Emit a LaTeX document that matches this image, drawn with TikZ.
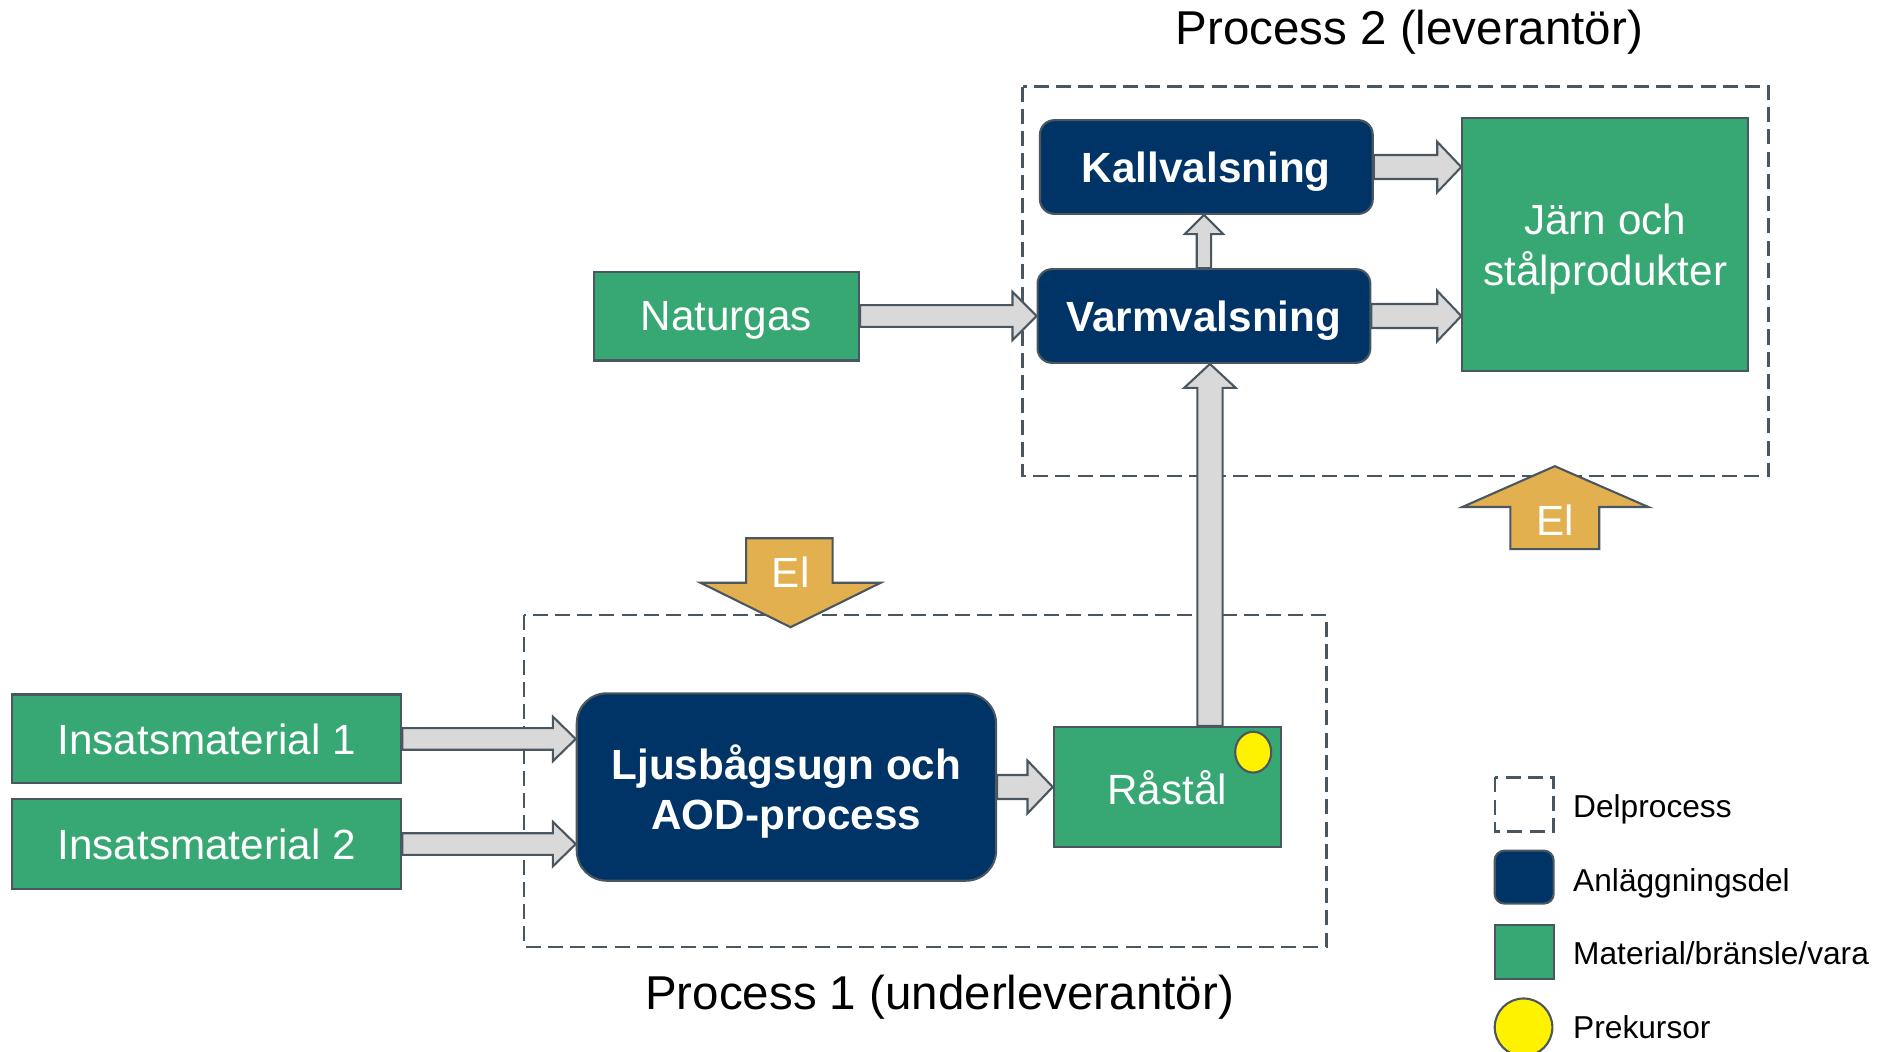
\documentclass[tikz,border=0pt]{standalone}
\usepackage{fontspec}
\setmainfont{Liberation Sans}
\usepackage{tikz}
\usetikzlibrary{calc}

\definecolor{navy}{RGB}{0,51,102}
\definecolor{gron}{RGB}{55,168,115}
\definecolor{guld}{RGB}{227,176,80}
\definecolor{kant}{RGB}{74,87,96}
\definecolor{pilgra}{RGB}{217,217,217}

\newcommand{\blockpil}[5]{%
  \coordinate (pA) at (#1);
  \coordinate (pB) at (#2);
  \coordinate (pC) at ($(pB)!#5!(pA)$);
  \draw[pil] ($(pA)!#3!90:(pB)$) -- ($(pC)!#3!90:(pB)$) -- ($(pC)!#4!90:(pB)$) -- (pB)
    -- ($(pC)!#4!-90:(pB)$) -- ($(pC)!#3!-90:(pB)$) -- ($(pA)!#3!-90:(pB)$) -- cycle;}

\begin{document}
\begin{tikzpicture}[x=0.02cm,y=-0.02cm,
  matbox/.style={draw=kant,line width=0.035cm,fill=gron,text=white,font=\fontsize{20}{24}\selectfont,inner sep=0pt,text depth=0pt,align=center},
  anlbox/.style={draw=kant,line width=0.035cm,fill=navy,text=white,font=\fontsize{20}{24}\selectfont\bfseries,rounded corners=0.24cm,inner sep=0pt,text depth=0pt,align=center},
  delbox/.style={draw=kant,line width=0.04cm,dash pattern=on 0.25cm off 0.12cm},
  pil/.style={draw=kant,line width=0.035cm,fill=pilgra,line join=miter},
  elpil/.style={draw=kant,line width=0.035cm,fill=guld},
  eltext/.style={text=white,font=\fontsize{20}{24}\selectfont},
  rubrik/.style={font=\fontsize{22.5}{27}\selectfont,text depth=0pt},
  legtext/.style={anchor=west,inner sep=0pt,text depth=0pt,font=\fontsize{15}{18}\selectfont}]
  \useasboundingbox (0,0) rectangle (1568,875);

  \draw[delbox] (851,72) rectangle (1472,396);
  \draw[delbox] (436,512) rectangle (1104,788);
  \node[rubrik] (p2titel) at (1173,23) {Process 2 (leverantör)};
  \node[rubrik] (p1titel) at (782,826) {Process 1 (underleverantör)};

  \node[anlbox,minimum width=5.54cm,minimum height=1.56cm] (kall) at (1004,139) {Kallvalsning};
  \node[anlbox,minimum width=5.54cm,minimum height=1.56cm] (varm) at (1002,263) {Varmvalsning};
  \node[matbox,minimum width=4.76cm,minimum height=4.22cm] (jarn) at (1336,203.5) {Järn och\\stålprodukter};
  \node[matbox,minimum width=4.42cm,minimum height=1.48cm] (natur) at (604.5,263) {Naturgas};
  \node[matbox,minimum width=6.48cm,minimum height=1.48cm] (ins1) at (172,615) {Insatsmaterial 1};
  \node[matbox,minimum width=6.48cm,minimum height=1.5cm] (ins2) at (172,702.5) {Insatsmaterial 2};
  \node[anlbox,rounded corners=0.5cm,minimum width=6.98cm,minimum height=3.12cm] (ljus) at (654.5,655) {Ljusbågsugn och\\AOD-process};
  \node[matbox,minimum width=3.78cm,minimum height=2cm] (rastal) at (971.5,655) {Råstål};
  \draw[draw=kant,fill=yellow,line width=0.035cm] (1043,626) ellipse [x radius=0.3cm,y radius=0.34cm];

  \blockpil{natur.east}{varm.west}{0.18cm}{0.4cm}{0.4cm}
  \blockpil{kall.east}{kall.east -| jarn.west}{0.2cm}{0.42cm}{0.4cm}
  \blockpil{varm.east}{varm.east -| jarn.west}{0.2cm}{0.42cm}{0.4cm}
  \blockpil{varm.north}{varm.north |- kall.south}{0.12cm}{0.32cm}{0.32cm}
  \blockpil{$(varm.south |- rastal.north)+(5,0)$}{$(varm.south)+(5,0)$}{0.21cm}{0.43cm}{0.4cm}
  \blockpil{ins1.east}{ins1.east -| ljus.west}{0.18cm}{0.37cm}{0.38cm}
  \blockpil{ins2.east}{ins2.east -| ljus.west}{0.18cm}{0.37cm}{0.38cm}
  \blockpil{ljus.east}{rastal.west}{0.2cm}{0.44cm}{0.42cm}

  \draw[elpil] (621,448) -- (693,448) -- (693,485) -- (733,485) -- (658,522) -- (583,485) -- (621,485) -- cycle;
  \node[eltext] (el1) at (658,476) {El};
  \draw[elpil] (1257,457) -- (1331,457) -- (1331,422) -- (1372,422) -- (1294,388) -- (1217,422) -- (1257,422) -- cycle;
  \node[eltext] (el2) at (1294,433) {El};

  \draw[delbox] (1244,647) rectangle (1293,692);
  \draw[draw=kant,fill=navy,line width=0.035cm,rounded corners=0.16cm] (1244,708) rectangle (1293,752);
  \draw[draw=kant,fill=gron,line width=0.035cm] (1244,770) rectangle (1293,815);
  \draw[draw=kant,fill=yellow,line width=0.035cm] (1268,855) ellipse [x radius=0.48cm,y radius=0.48cm];
  \foreach \yy/\txt in {671/Delprocess,732/Anläggningsdel,793/Material\slash bränsle\slash vara,855/Prekursor}
    \node[legtext] (leg\yy) at (1309,\yy) {\txt};
\end{tikzpicture}
\end{document}
